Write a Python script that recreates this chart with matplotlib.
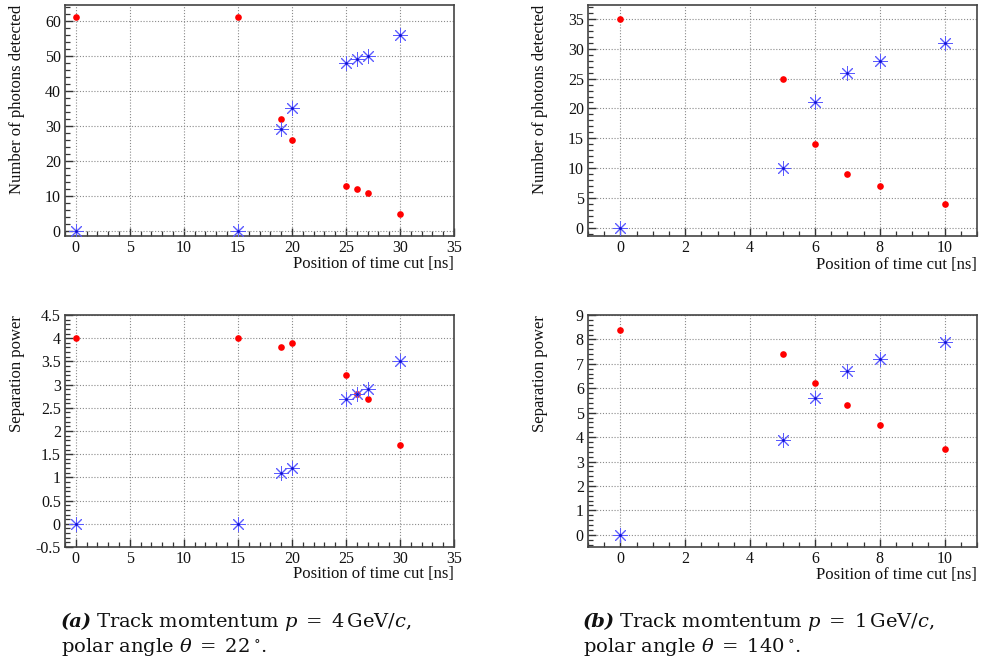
import matplotlib
matplotlib.use("Agg")
import matplotlib.pyplot as plt
from matplotlib.ticker import MultipleLocator, FormatStrFormatter

plt.rcParams["font.family"] = ["Liberation Serif", "DejaVu Serif"]
plt.rcParams["mathtext.fontset"] = "custom"
plt.rcParams["mathtext.rm"] = "Liberation Serif"
plt.rcParams["mathtext.it"] = "Liberation Serif:italic"
plt.rcParams["mathtext.bf"] = "Liberation Serif:bold"
plt.rcParams["axes.unicode_minus"] = True

# (a) p = 4 GeV/c, theta = 22 deg
cut_a = [0, 15, 19, 20, 25, 26, 27, 30]
photons_a_red = [61, 61, 32, 26, 13, 12, 11, 5]
photons_a_blue = [0, 0, 29, 35, 48, 49, 50, 56]
sep_a_red = [4.0, 4.0, 3.8, 3.9, 3.2, 2.8, 2.7, 1.7]
sep_a_blue = [0.0, 0.0, 1.1, 1.2, 2.7, 2.8, 2.9, 3.5]

# (b) p = 1 GeV/c, theta = 140 deg
cut_b = [0, 5, 6, 7, 8, 10]
photons_b_red = [35, 25, 14, 9, 7, 4]
photons_b_blue = [0, 10, 21, 26, 28, 31]
sep_b_red = [8.4, 7.4, 6.2, 5.3, 4.5, 3.5]
sep_b_blue = [0.0, 3.9, 5.6, 6.7, 7.2, 7.9]

W, H = 982, 668
fig = plt.figure(figsize=(W / 100, H / 100), dpi=100)


def px_axes(x0, y0, x1, y1):
    return fig.add_axes([x0 / W, 1 - y1 / H, (x1 - x0) / W, (y1 - y0) / H])


def style(ax, xlim, ylim, xmaj, xmin, ymaj, ymin):
    ax.set_xlim(*xlim)
    ax.set_ylim(*ylim)
    ax.xaxis.set_major_locator(MultipleLocator(xmaj))
    ax.xaxis.set_minor_locator(MultipleLocator(xmin))
    ax.yaxis.set_major_locator(MultipleLocator(ymaj))
    ax.yaxis.set_minor_locator(MultipleLocator(ymin))
    ax.xaxis.set_major_formatter(FormatStrFormatter("%g"))
    ax.yaxis.set_major_formatter(FormatStrFormatter("%g"))
    ax.tick_params(which="both", direction="in", top=False, right=False,
                   color="#333333", labelsize=11.5, labelcolor="#111111")
    ax.tick_params(which="major", length=6, width=1.0, pad=3)
    ax.tick_params(which="minor", length=3.5, width=0.9)
    ax.grid(True, which="major", color="#8a8a8a", linestyle=(0, (1, 1.6)),
            linewidth=0.8)
    ax.set_axisbelow(True)
    for s in ax.spines.values():
        s.set_color("#444444")
        s.set_linewidth(1.2)


def draw(ax, x, red, blue):
    ax.plot(x, red, linestyle="none", marker="o", markersize=4.8,
            color="#ff0000", markeredgewidth=0, zorder=3)
    ax.plot(x, blue, linestyle="none", marker=(8, 2, 0), markersize=10.5,
            color="#5a5aff", markeredgewidth=0.7, zorder=4)
    ax.plot(x, blue, linestyle="none", marker="o", markersize=2.0,
            color="#1010d0", markeredgewidth=0, zorder=5)


ax1 = px_axes(65, 5, 454, 236)
style(ax1, (-1, 35), (-1.4, 64.5), 5, 1, 10, 2)
draw(ax1, cut_a, photons_a_red, photons_a_blue)

ax2 = px_axes(588, 5, 977, 236)
style(ax2, (-1, 11), (-1.4, 37.35), 2, 0.5, 5, 1)
draw(ax2, cut_b, photons_b_red, photons_b_blue)

ax3 = px_axes(65, 315, 454, 547)
style(ax3, (-1, 35), (-0.5, 4.5), 5, 1, 0.5, 0.1)
draw(ax3, cut_a, sep_a_red, sep_a_blue)

ax4 = px_axes(588, 315, 977, 547)
style(ax4, (-1, 11), (-0.5, 9), 2, 0.5, 1, 0.2)
draw(ax4, cut_b, sep_b_red, sep_b_blue)

lab = dict(fontsize=12, color="#111111")
fig.text(454 / W, 1 - 256 / H, "Position of time cut [ns]", ha="right", va="top", **lab)
fig.text(977 / W, 1 - 257 / H, "Position of time cut [ns]", ha="right", va="top", **lab)
fig.text(454 / W, 1 - 566 / H, "Position of time cut [ns]", ha="right", va="top", **lab)
fig.text(977 / W, 1 - 567 / H, "Position of time cut [ns]", ha="right", va="top", **lab)

fig.text(17 / W, 1 - 5 / H, "Number of photons detected", rotation=90, ha="center", va="top", **lab)
fig.text(540 / W, 1 - 5 / H, "Number of photons detected", rotation=90, ha="center", va="top", **lab)
fig.text(17 / W, 1 - 315 / H, "Separation power", rotation=90, ha="center", va="top", **lab)
fig.text(540 / W, 1 - 315 / H, "Separation power", rotation=90, ha="center", va="top", **lab)

cap = dict(fontsize=14, color="#111111", family="DejaVu Serif",
           math_fontfamily="dejavuserif")


def caption(x, tag, line1, line2):
    t = fig.text(x / W, 1 - 627 / H, tag, ha="left", va="baseline",
                 fontweight="bold", fontstyle="italic", **cap)
    fig.text(x / W, 1 - 652 / H, line2, ha="left", va="baseline", **cap)
    fig.canvas.draw()
    r = fig.canvas.get_renderer()
    bb = t.get_window_extent(r)
    fig.text((bb.x1 + 4) / W, 1 - 627 / H, line1, ha="left", va="baseline", **cap)


caption(61, "(a)", r"Track momtentum $p\;=\;4\,\mathrm{GeV}/c$,",
        r"polar angle $\theta\;=\;22\,^{\circ}$.")
caption(583, "(b)", r"Track momtentum $p\;=\;1\,\mathrm{GeV}/c$,",
        r"polar angle $\theta\;=\;140\,^{\circ}$.")

fig.savefig("out.png", dpi=100)
